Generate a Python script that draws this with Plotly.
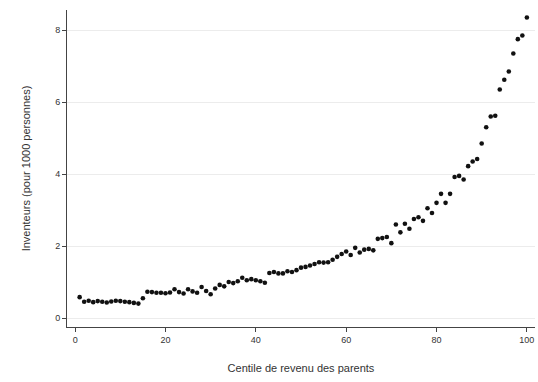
import plotly.graph_objects as go

centiles = list(range(1, 101))
inventeurs = [
    0.58, 0.45, 0.48, 0.44, 0.47, 0.45, 0.43, 0.46, 0.48, 0.47,
    0.45, 0.44, 0.42, 0.40, 0.55, 0.73, 0.72, 0.70, 0.70, 0.69,
    0.71, 0.80, 0.72, 0.68, 0.80, 0.74, 0.70, 0.86, 0.75, 0.66,
    0.82, 0.92, 0.88, 1.00, 0.97, 1.02, 1.12, 1.05, 1.08, 1.05,
    1.02, 0.98, 1.25, 1.28, 1.24, 1.24, 1.30, 1.28, 1.33, 1.40,
    1.42, 1.46, 1.50, 1.55, 1.54, 1.55, 1.62, 1.70, 1.78, 1.85,
    1.75, 1.95, 1.82, 1.90, 1.92, 1.88, 2.20, 2.22, 2.25, 2.08,
    2.60, 2.38, 2.62, 2.48, 2.75, 2.80, 2.70, 3.05, 2.92, 3.20,
    3.45, 3.20, 3.45, 3.92, 3.95, 3.85, 4.22, 4.35, 4.42, 4.85,
    5.30, 5.60, 5.62, 6.35, 6.62, 6.85, 7.35, 7.75, 7.85, 8.35,
]
x_ticks = [0, 20, 40, 60, 80, 100]
y_ticks = [0, 2, 4, 6, 8]

fig = go.Figure()
fig.add_trace(go.Scatter(
    x=centiles, y=inventeurs, mode="markers",
    marker=dict(color="#111111", size=4.6, line=dict(width=0)),
    showlegend=False,
))

font = dict(family="Liberation Sans, Arial, sans-serif", size=9, color="#333333")
fig.update_layout(
    width=538, height=382,
    margin=dict(l=67, r=3, t=10, b=55),
    paper_bgcolor="white", plot_bgcolor="white",
    font=font,
    xaxis=dict(
        range=[-1.8, 101.8], tickvals=x_ticks, showgrid=False, zeroline=False,
        showline=True, linecolor="#444444", linewidth=1,
        ticks="outside", ticklen=4, tickcolor="#444444",
        title=dict(text="Centile de revenu des parents", standoff=20),
    ),
    yaxis=dict(
        range=[-0.25, 8.56], tickvals=y_ticks, showgrid=True, gridcolor="#ececec",
        gridwidth=1, zeroline=False,
        showline=True, linecolor="#444444", linewidth=1,
        ticks="outside", ticklen=4, tickcolor="#444444",
        title=dict(text="Inventeurs (pour 1000 personnes)", standoff=22),
    ),
)
fig.write_html("out.html")
